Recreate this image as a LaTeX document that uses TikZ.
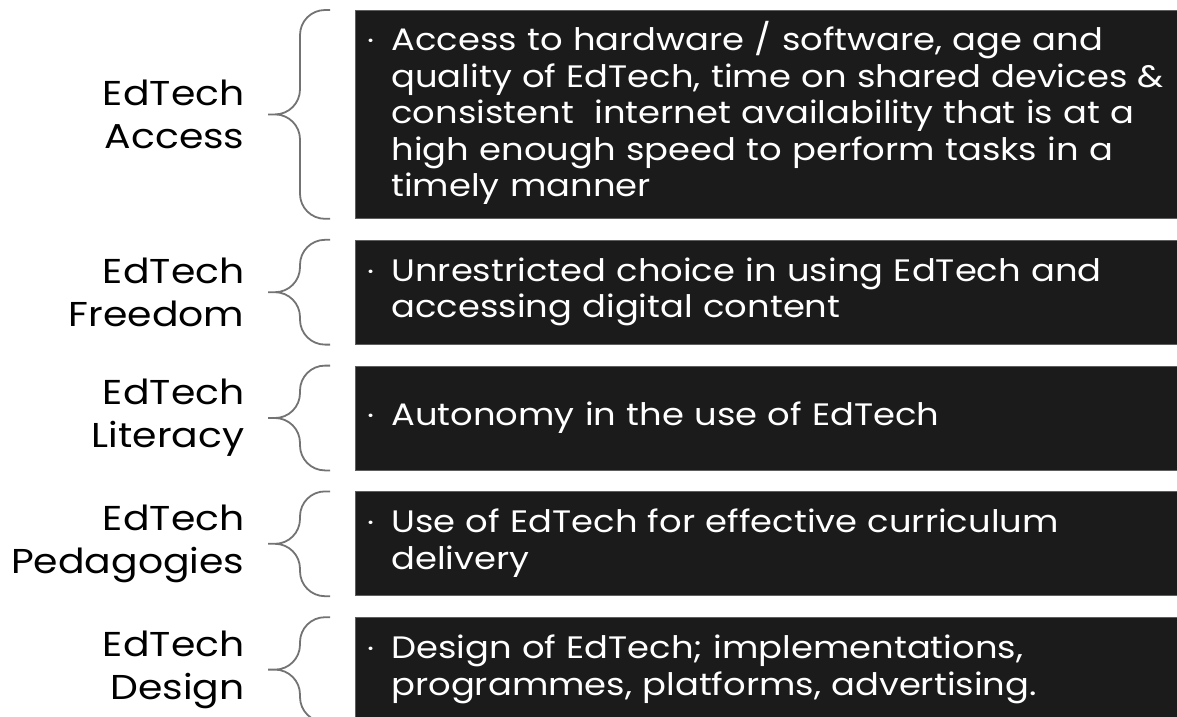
\documentclass[tikz,border=0pt]{standalone}
\usepackage{fontspec}
\setmainfont{Poppins}[FakeStretch=1.14]
\usepackage{tikz}
\usetikzlibrary{positioning}
\definecolor{carbon}{HTML}{1B1B1B}
\definecolor{borde}{HTML}{5E5E5E}
\definecolor{humo}{HTML}{737373}
\newcommand{\punto}{\makebox[24pt][l]{\raisebox{5pt}{\fontsize{14}{14}\selectfont\textbullet}}}

\begin{document}
\begin{tikzpicture}[x=1pt,y=-1pt,
      node distance=21pt,
      bloque/.style={draw=borde,fill=carbon,text=white,line width=0.8pt,
                     anchor=north west,minimum width=822pt,minimum height=104pt,
                     text width=798pt,inner xsep=12pt,align=left,
                     font=\fontsize{31}{36.5}\selectfont},
      rotulo/.style={align=right,font=\fontsize{34.5}{43}\selectfont},
      llave/.style={draw=humo,line width=1.8pt,rounded corners=25pt}]
    \useasboundingbox (0,0) rectangle (1177,716);
    % the five black panels
    \node[bloque,minimum height=208pt] (b1) at (355,10)
      {\punto\begin{tabular}[t]{@{}l@{}}Access to hardware / software, age and\\ quality of EdTech, time on shared devices \&\\ consistent \ internet availability that is at a\\ high enough speed to perform tasks in a\\ timely manner\end{tabular}};
    \node[bloque,below=of b1.south west,anchor=north west] (b2)
      {\punto\begin{tabular}[t]{@{}l@{}}Unrestricted choice in using EdTech and\\ accessing digital content\end{tabular}};
    \node[bloque,below=of b2.south west,anchor=north west] (b3)
      {\punto Autonomy in the use of EdTech};
    \node[bloque,below=of b3.south west,anchor=north west] (b4)
      {\punto\begin{tabular}[t]{@{}l@{}}Use of EdTech for effective curriculum\\ delivery\end{tabular}};
    \node[bloque,below=of b4.south west,anchor=north west] (b5)
      {\punto\begin{tabular}[t]{@{}l@{}}Design of EdTech; implementations,\\ programmes, platforms, advertising.\end{tabular}};
    % labels on the left
    \node[rotulo,left=107pt of b1] (l1) {EdTech\\ Access};
    \node[rotulo,left=107pt of b2] (l2) {EdTech\\ Freedom};
    \node[rotulo,left=107pt of b3] (l3) {EdTech\\ Literacy};
    \node[rotulo,left=107pt of b4] (l4) {EdTech\\ Pedagogies};
    \node[rotulo,left=107pt of b5] (l5) {EdTech\\ Design};
    % braces, each in two halves meeting at the tip
    \draw[llave] ([xshift=-87pt]b1.west) -| ([xshift=-55pt]b1.north west) -- ([xshift=-25pt]b1.north west)
                 ([xshift=-87pt]b1.west) -| ([xshift=-55pt]b1.south west) -- ([xshift=-25pt]b1.south west);
    \draw[llave] ([xshift=-87pt]b2.west) -| ([xshift=-55pt]b2.north west) -- ([xshift=-25pt]b2.north west)
                 ([xshift=-87pt]b2.west) -| ([xshift=-55pt]b2.south west) -- ([xshift=-25pt]b2.south west);
    \draw[llave] ([xshift=-87pt]b3.west) -| ([xshift=-55pt]b3.north west) -- ([xshift=-25pt]b3.north west)
                 ([xshift=-87pt]b3.west) -| ([xshift=-55pt]b3.south west) -- ([xshift=-25pt]b3.south west);
    \draw[llave] ([xshift=-87pt]b4.west) -| ([xshift=-55pt]b4.north west) -- ([xshift=-25pt]b4.north west)
                 ([xshift=-87pt]b4.west) -| ([xshift=-55pt]b4.south west) -- ([xshift=-25pt]b4.south west);
    \draw[llave] ([xshift=-87pt]b5.west) -| ([xshift=-55pt]b5.north west) -- ([xshift=-25pt]b5.north west)
                 ([xshift=-87pt]b5.west) -| ([xshift=-55pt]b5.south west) -- ([xshift=-25pt]b5.south west);
  \end{tikzpicture}
\end{document}
